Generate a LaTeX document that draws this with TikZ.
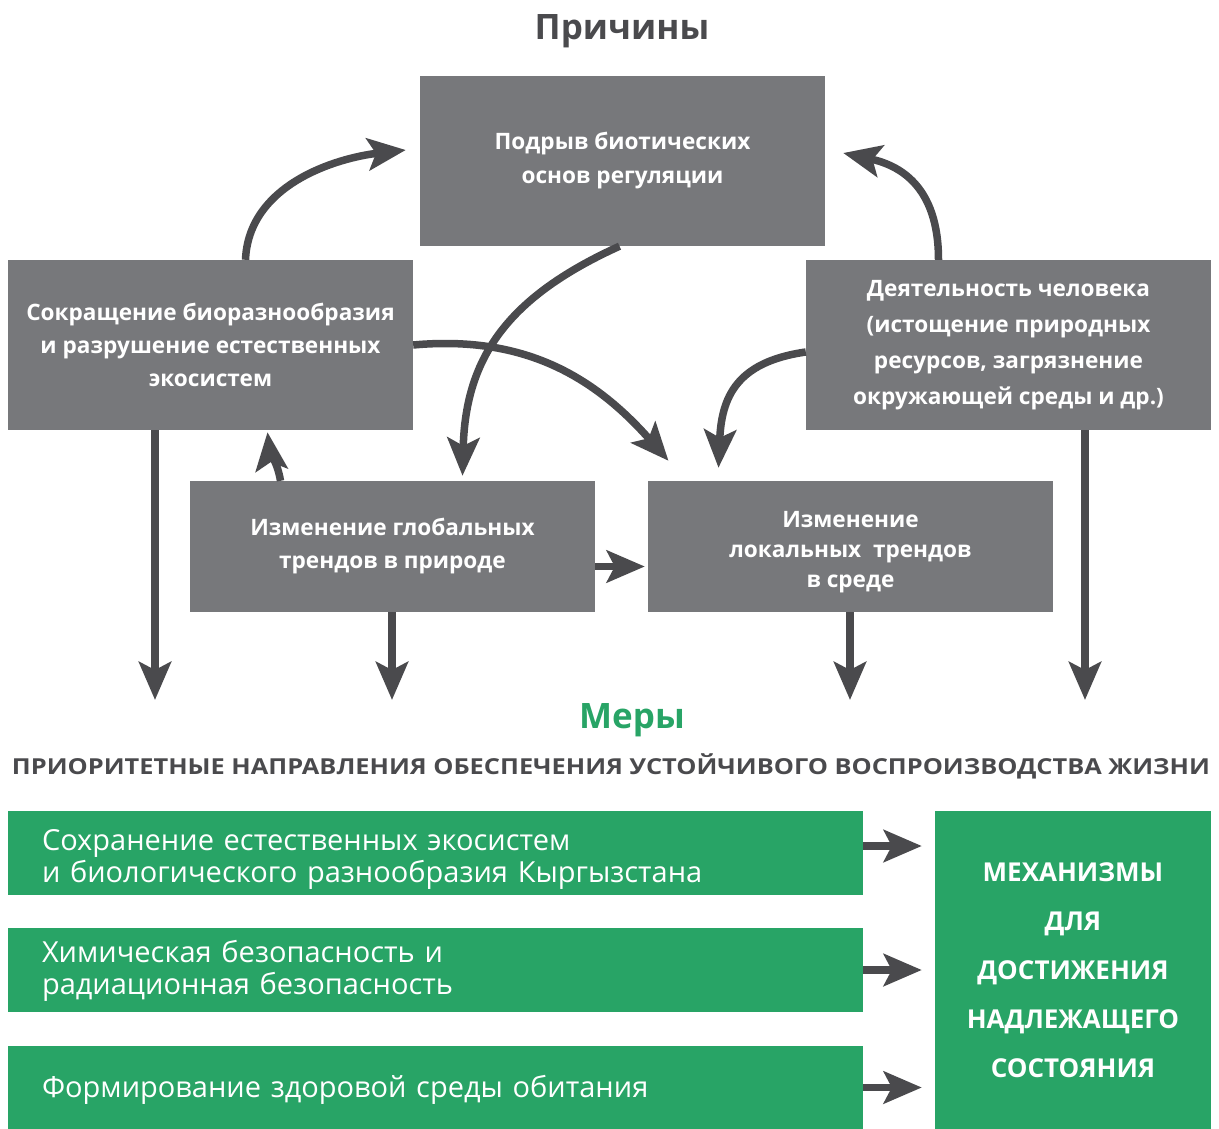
\documentclass[tikz,border=0pt]{standalone}
\usepackage{fontspec}
\setmainfont{Open Sans}
\usepackage{graphicx}
\usetikzlibrary{arrows.meta,calc}

\definecolor{boxgray}{HTML}{77787B}
\definecolor{arrgray}{HTML}{4A4A4D}
\definecolor{mgreen}{HTML}{28A466}

\newcommand\lift[1]{\rule{0pt}{#1}}

\tikzset{
  cause/.style={fill=boxgray, text=white, align=center, inner sep=0pt,
    minimum width=405pt, font=\bfseries\fontsize{22.6}{#1}\selectfont},
  cause/.default=33,
  measure/.style={fill=mgreen, text=white, align=left, inner xsep=34pt, inner ysep=0pt,
    text width=787pt, minimum height=84pt, font=\fontsize{29}{32}\selectfont},
  arr/.style={draw=arrgray, line width=7.5pt,
    -{Stealth[length=38pt,width=32pt,inset=8pt]}},
}

\begin{document}
\begin{tikzpicture}[x=1pt,y=-1pt]
			\useasboundingbox (0,0) rectangle (1219,1129);
			% headings
			\node[text=arrgray, font=\bfseries\fontsize{35}{40}\selectfont] (causes) at (622,31) {Причины};
			\node[text=mgreen, font=\bfseries\fontsize{35}{40}\selectfont] (measures) at (632,720) {Меры};
			\node[text=arrgray, inner sep=0pt, font=\bfseries\fontsize{22}{25}\selectfont] (prio) at (611,766)
				{\resizebox{1198pt}{\height}{ПРИОРИТЕТНЫЕ НАПРАВЛЕНИЯ ОБЕСПЕЧЕНИЯ УСТОЙЧИВОГО ВОСПРОИЗВОДСТВА ЖИЗНИ}};
			% causes
			\node[cause=34, minimum height=170pt] (top) at (622.5,161) {Подрыв биотических\\основ регуляции};
			\node[cause, minimum height=170pt] (lbox) at (210.5,345) {Сокращение биоразнообразия\\и разрушение естественных\\экосистем};
			\node[cause=36, minimum height=170pt] (rbox) at (1008.5,345) {Деятельность человека\\(истощение природных\\ресурсов, загрязнение\\окружающей среды и др.)};
			\node[cause, minimum height=131pt] (gbox) at (392.5,546.5) {Изменение глобальных\\трендов в природе};
			\node[cause=30, minimum height=131pt] (locbox) at (850.5,546.5) {\lift{27pt}Изменение\\локальных\ \ трендов\\в среде};
			% measures
			\node[measure] (g1) at (435.5,853) {\lift{33pt}Сохранение естественных экосистем\\и биологического разнообразия Кыргызстана};
			\node[measure] (g2) at (435.5,970) {\lift{23pt}Химическая безопасность и\\радиационная безопасность};
			\node[measure, minimum height=83pt] (g3) at (435.5,1087.5) {\lift{27pt}Формирование здоровой среды обитания};
			\node[fill=mgreen, text=white, align=center, minimum width=276pt, minimum height=318pt, inner sep=0pt,
				font=\bfseries\fontsize{26}{49}\selectfont] (mech) at (1073,970)
				{МЕХАНИЗМЫ\\ДЛЯ\\ДОСТИЖЕНИЯ\\НАДЛЕЖАЩЕГО\\СОСТОЯНИЯ};
			% free ends of the down arrows
			\coordinate (d1) at (155,700);
			\coordinate (d2) at (392,700);
			\coordinate (d3) at (850,700);
			\coordinate (d4) at (1085,700);
			% curved arrows
			\draw[arr] ($(lbox.north)+(35,0)$) .. controls +(3,-75) and +(-70,8) .. ($(top.west)+(-14,-11)$);
			\draw[arr] ($(rbox.north)+(-70,0)$) .. controls +(0,-75) and +(55,12) .. ($(top.east)+(18,-8)$);
			\draw[arr] ($(top.south)+(-3,0)$) .. controls +(-110,50) and +(3,-120) .. ($(gbox.north)+(70,-5)$);
			\draw[arr] (lbox.east) .. controls +(110,-10) and +(-75,-85) .. ($(locbox.north)+(-182,-20)$);
			\draw[arr] ($(rbox.west)+(0,7)$) .. controls +(-70,10) and +(3,-70) .. ($(locbox.north)+(-132,-13)$);
			\draw[arr] ($(gbox.north)+(-112,0)$) .. controls +(-3,-18) and +(2,18) .. ($(lbox.south)+(57,2)$);
			\draw[arr] ($(gbox.east)+(0,20)$) -- ($(locbox.west)+(-3,20)$);
			% straight arrows down
			\draw[arr] (lbox.south -| d1) -- (d1);
			\draw[arr] (gbox.south -| d2) -- (d2);
			\draw[arr] (locbox.south -| d3) -- (d3);
			\draw[arr] (rbox.south -| d4) -- (d4);
			% arrows to the mechanisms
			\draw[arr] ($(g1.east)+(0,-7)$) -- ($(g1.east -| mech.west)+(-13,-7)$);
			\draw[arr] (g2.east) -- ($(g2.east -| mech.west)+(-13,0)$);
			\draw[arr] (g3.east) -- ($(g3.east -| mech.west)+(-13,0)$);
		\end{tikzpicture}
\end{document}
